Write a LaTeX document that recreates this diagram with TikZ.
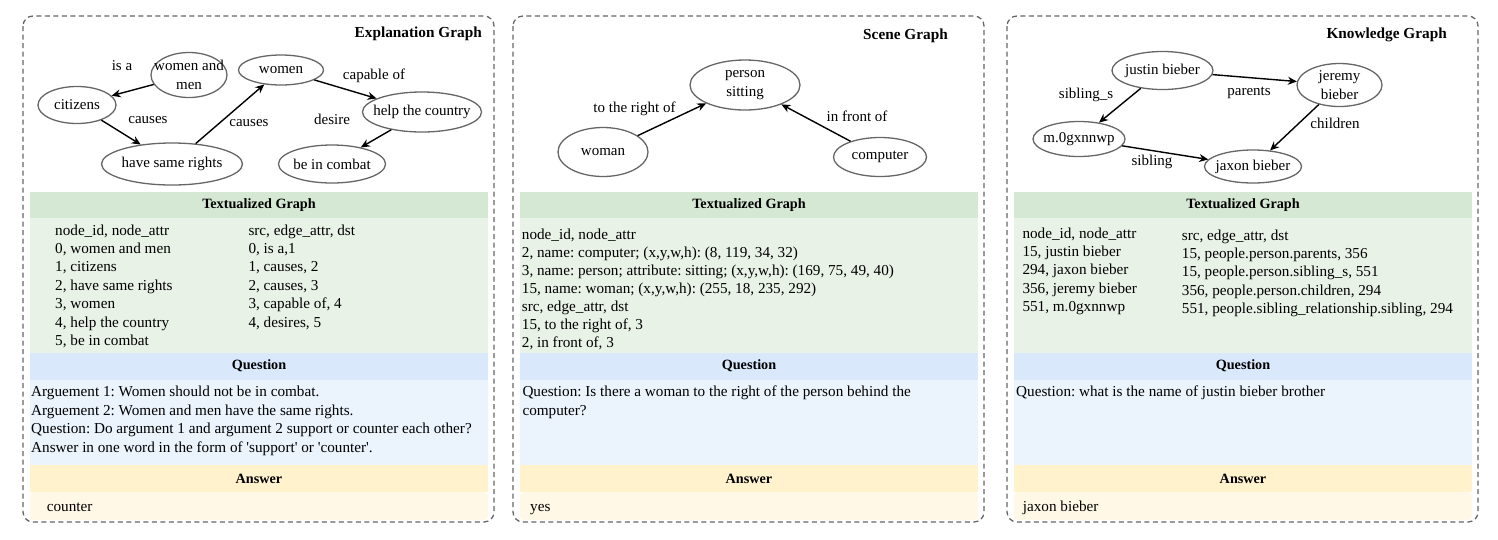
\documentclass[tikz,border=0pt]{standalone}
\usepackage{fontspec}
\setmainfont{Liberation Serif}
\usetikzlibrary{shapes.geometric,arrows.meta}
\frenchspacing

\definecolor{tgHead}{HTML}{D5E8D4}
\definecolor{tgBody}{HTML}{E9F2E7}
\definecolor{qHead}{HTML}{DAE8FC}
\definecolor{qBody}{HTML}{EBF3FD}
\definecolor{ansHead}{HTML}{FFF2CC}
\definecolor{ansBody}{HTML}{FFF8E6}
\definecolor{lineGray}{HTML}{666666}

\begin{document}
\begin{tikzpicture}[
    x=1pt,
    y=-1pt,
    node/.style={%
      draw=lineGray,
      ellipse,
      line width=1.3pt,
      inner sep=0pt,
      align=center,
      font=\fontsize{15}{19.5}\selectfont,
    },
    lbl/.style={%
      inner sep=0pt,
      font=\fontsize{15}{19.5}\selectfont,
    },
    arr/.style={%
      -{Stealth[length=9pt,width=8pt]},
      line width=1.4pt,
    },
    head/.style={%
      inner sep=0pt,
      font=\fontsize{14.2}{17}\selectfont\bfseries,
    },
    title/.style={%
      inner sep=0pt,
      anchor=east,
      font=\fontsize{15.3}{18}\selectfont\bfseries,
    },
    txt/.style={%
      anchor=north west,
      align=left,
      inner sep=0pt,
      font=\fontsize{15.2}{18.4}\selectfont,
    },
    panel/.style={%
      draw=lineGray,
      line width=1.3pt,
      dash pattern=on 5pt off 3.5pt,
      rounded corners=10pt,
    },
  ]

    \useasboundingbox (0,0) rectangle (1498,539);

    % panels and bands
    \foreach \px/\k in {23/a,513/b,1007/c} {
      \fill [tgHead] (\px+7,192) rectangle (\px+465,218);
      \fill [tgBody] (\px+7,218) rectangle (\px+465,353);
      \fill [qHead] (\px+7,353) rectangle (\px+465,380);
      \fill [qBody] (\px+7,380) rectangle (\px+465,465);
      \fill [ansHead] (\px+7,465) rectangle (\px+465,492);
      \fill [ansBody, rounded corners=4pt] (\px+7,492) rectangle (\px+465,520);
      \draw [panel] (\px,16) rectangle (\px+471,522);
      \node [head] (tg\k) at (\px+236,205) {Textualized Graph};
      \node [head] (q\k) at (\px+236,366) {Question};
      \node [head] (ans\k) at (\px+236,479) {Answer};
    }

    \node [title] (expl) at (482,34) {Explanation Graph};
    \node [title] (scene) at (948,35.5) {Scene Graph};
    \node [title] (know) at (1447,35) {Knowledge Graph};

    % explanation graph
    \node [node, minimum width=76pt, minimum height=45pt] (wm) at (189,75) {\makebox[0pt]{women and}\\\makebox[0pt]{men}};
    \node [node, minimum width=78pt, minimum height=37pt] (cit) at (77,105) {\makebox[0pt]{citizens}};
    \node [node, minimum width=141pt, minimum height=42pt] (hsr) at (172,164) {\makebox[0pt]{have same rights}};
    \node [node, minimum width=85pt, minimum height=30pt] (wom) at (281,70) {\makebox[0pt]{women}};
    \node [node, minimum width=119pt, minimum height=40pt] (htc) at (422,112) {\makebox[0pt]{help the country}};
    \node [node, minimum width=107pt, minimum height=38pt] (bic) at (332,164) {\makebox[0pt]{be in combat}};

    \draw [arr] (wm) -- (cit);
    \draw [arr] (cit) -- (hsr);
    \draw [arr] (hsr) -- (wom);
    \draw [arr] (wom) -- (htc);
    \draw [arr] (htc) -- (bic);

    \node [lbl] (isa) at (122,66) {is a};
    \node [lbl] (causesA) at (148,120) {causes};
    \node [lbl] (causesB) at (249,123) {causes};
    \node [lbl] (capable) at (374,76) {capable of};
    \node [lbl] (desire) at (332,119) {desire};

    % scene graph
    \node [node, minimum width=110pt, minimum height=50pt] (per) at (745,85) {\makebox[0pt]{person}\\\makebox[0pt]{sitting}};
    \node [node, minimum width=90pt, minimum height=49pt] (wmn) at (603,152) {\makebox[0pt]{woman}};
    \node [node, minimum width=93pt, minimum height=39pt] (cmp) at (880,157) {\makebox[0pt]{computer}};

    \draw [arr] (wmn) -- (per);
    \draw [arr] (cmp) -- (per);

    \node [lbl] (rightof) at (634.5,108.5) {to the right of};
    \node [lbl] (frontof) at (857,116) {in front of};

    % knowledge graph
    \node [node, minimum width=101pt, minimum height=38pt] (jus) at (1162.5,70.5) {\makebox[0pt]{justin bieber}};
    \node [node, minimum width=85pt, minimum height=43pt] (jer) at (1339.5,85) {\makebox[0pt]{jeremy}\\\makebox[0pt]{bieber}};
    \node [node, minimum width=92pt, minimum height=35pt] (mgx) at (1079,139) {\makebox[0pt]{m.0gxnnwp}};
    \node [node, minimum width=97pt, minimum height=33pt] (jax) at (1253,166.5) {\makebox[0pt]{jaxon bieber}};

    \draw [arr] (jus) -- (jer);
    \draw [arr] (jus) -- (mgx);
    \draw [arr] (jer) -- (jax);
    \draw [arr] (mgx) -- (jax);

    \node [lbl] (sibs) at (1086,95) {sibling\_s};
    \node [lbl] (parents) at (1249,93) {parents};
    \node [lbl] (children) at (1335,123) {children};
    \node [lbl] (sibling) at (1152,162) {sibling};

    % textualized graphs
    \node [txt] (nodesA) at (55,222.1) {\strut node\_id, node\_attr\\0, women and men\\1, citizens\\2, have same rights\\3, women\\4, help the country\\5, be in combat};
    \node [txt] (edgesA) at (248.3,222.1) {\strut src, edge\_attr, dst\\0, is a,1\\1, causes, 2\\2, causes, 3\\3, capable of, 4\\4, desires, 5};
    \node [txt, font=\fontsize{15.2}{18}\selectfont] (nodesB) at (521.7,226.4) {\strut node\_id, node\_attr\\2, name: computer; (x,y,w,h): (8, 119, 34, 32)\\3, name: person; attribute: sitting; (x,y,w,h): (169, 75, 49, 40)\\15, name: woman; (x,y,w,h): (255, 18, 235, 292)\\src, edge\_attr, dst\\15, to the right of, 3\\2, in front of, 3};
    \node [txt] (nodesC) at (1022.3,225.1) {\strut node\_id, node\_attr\\15, justin bieber\\294, jaxon bieber\\356, jeremy bieber\\551, m.0gxnnwp};
    \node [txt] (edgesC) at (1181.7,227.1) {\strut src, edge\_attr, dst\\15, people.person.parents, 356\\15, people.person.sibling\_s, 551\\356, people.person.children, 294\\551, people.sibling\_relationship.sibling, 294};

    % questions and answers
    \node [txt] (questA) at (31,383.8) {\strut Arguement 1: Women should not be in combat.\\Arguement 2: Women and men have the same rights.\\Question: Do argument 1 and argument 2 support or counter each other?\\Answer in one word in the form of \textquotesingle support\textquotesingle{} or \textquotesingle counter\textquotesingle.};
    \node [txt] (questB) at (522.3,383.8) {\strut Question: Is there a woman to the right of the person behind the\\computer?};
    \node [txt] (questC) at (1016,383.8) {\strut Question: what is the name of justin bieber brother};
    \node [txt] (answA) at (46.7,498.8) {\strut counter};
    \node [txt] (answB) at (530,498.8) {\strut yes};
    \node [txt] (answC) at (1022.7,498.8) {\strut jaxon bieber};
\end{tikzpicture}
\end{document}
